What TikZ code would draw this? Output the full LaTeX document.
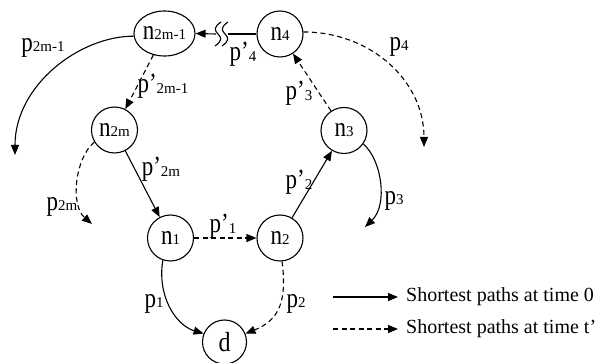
\documentclass[tikz,border=0pt]{standalone}
\usepackage{graphicx}
\usepackage{fontspec}
\setmainfont{Liberation Serif}
\usetikzlibrary{arrows.meta,shapes.geometric}
\newcommand{\Lb}[2]{{\fontsize{23}{23}\selectfont\scalebox{1}[1.2]{#1}}{\fontsize{15}{15}\selectfont #2}}
\newcommand{\Lp}[2]{{\fontsize{23}{23}\selectfont\scalebox{1}[1.2]{#1’}}{\fontsize{15}{15}\selectfont\raisebox{-1.5pt}{#2}}}
\begin{document}
\begin{tikzpicture}[x=1pt,y=-1pt,
  nd/.style={circle,draw,line width=1.1pt,minimum size=46pt,inner sep=0pt},
  ell/.style={ellipse,draw,line width=1.1pt,minimum width=59pt,minimum height=45pt,inner sep=0pt},
  con/.style={line width=1.1pt,-{Triangle[length=10pt,width=8pt]}},
  dsh/.style={con,dash pattern=on 5pt off 3.5pt},
  lab/.style={inner sep=0pt},
  leg/.style={anchor=west,inner sep=0pt,font=\fontsize{20}{20}\selectfont}]
\useasboundingbox (0,0) rectangle (598,363);
% nodes
\node[ell] (nA) at (164.5,33.5) {\Lb{n}{2m-1}};
\node[nd] (n4) at (280,34) {\Lb{n}{4}};
\node[nd] (nB) at (114.5,130) {\Lb{n}{2m}};
\node[nd] (n3) at (344,130.5) {\Lb{n}{3}};
\node[nd] (n1) at (170.5,238) {\Lb{n}{1}};
\node[nd] (n2) at (280,238) {\Lb{n}{2}};
\node[nd,minimum size=44pt] (d) at (224.5,342) {{\fontsize{24}{24}\selectfont\scalebox{1}[1.15]{d}}};
% free ends
\coordinate (e1) at (15,155);
\coordinate (e2) at (92,224);
\coordinate (e3) at (365,227);
\coordinate (e4) at (424,147);
\coordinate (brR) at (228,34);
\coordinate (brL) at (216,34);
% straight connectors
\draw[dsh] (nA) -- (nB);
\draw[con] (nB) -- (n1);
\draw[dsh] (n1) -- (n2);
\draw[con] (n2) -- (n3);
\draw[dsh] (n3) -- (n4);
\draw[line width=1.6pt] (n4.west) -- (brR);
\draw[con] (brL) -- (nA.east);
% break symbol
\draw[line width=1.1pt] (221,22) .. controls (214,27) and (214,30) .. (218,34) .. controls (222,38) and (222,41) .. (215,46);
\draw[line width=1.1pt] (228,22) .. controls (221,27) and (221,30) .. (225,34) .. controls (229,38) and (229,41) .. (222,46);
% curved connectors
\draw[con] (nA.185) .. controls (80,36) and (15,85) .. (e1);
\draw[dsh] (nB.211) .. controls (75,158) and (70,205) .. (e2);
\draw[con] (n1.251) .. controls (157,295) and (175,325) .. (d.158);
\draw[dsh] (n2.275) .. controls (287,300) and (280,320) .. (d.22);
\draw[con] (n3.325) .. controls (382,160) and (388,205) .. (e3);
\draw[dsh] (n4.5) .. controls (370,32) and (424,80) .. (e4);
% labels
\node[lab] (lA) at (43,48) {\Lb{p}{2m-1}};
\node[lab] (lA2) at (163,86) {\Lp{p}{2m-1}};
\node[lab] (lB2) at (161,169) {\Lp{p}{2m}};
\node[lab] (lB) at (62,207) {\Lb{p}{2m}};
\node[lab] (l12) at (223,226) {\Lp{p}{1}};
\node[lab] (l1) at (154,304) {\Lb{p}{1}};
\node[lab] (l2) at (296,304) {\Lb{p}{2}};
\node[lab] (l22) at (299,182) {\Lp{p}{2}};
\node[lab] (l3) at (394,201) {\Lb{p}{3}};
\node[lab] (l32) at (299,93) {\Lp{p}{3}};
\node[lab] (l42) at (243,54) {\Lp{p}{4}};
\node[lab] (l4) at (399,47) {\Lb{p}{4}};
% legend
\coordinate (g1a) at (333,297);
\coordinate (g1b) at (398,297);
\coordinate (g2a) at (333,329);
\coordinate (g2b) at (398,329);
\draw[con] (g1a) -- (g1b);
\draw[dsh] (g2a) -- (g2b);
\node[leg] (t1) at (406,297) {Shortest paths at time 0};
\node[leg] (t2) at (406,329) {Shortest paths at time t’};
\end{tikzpicture}
\end{document}
